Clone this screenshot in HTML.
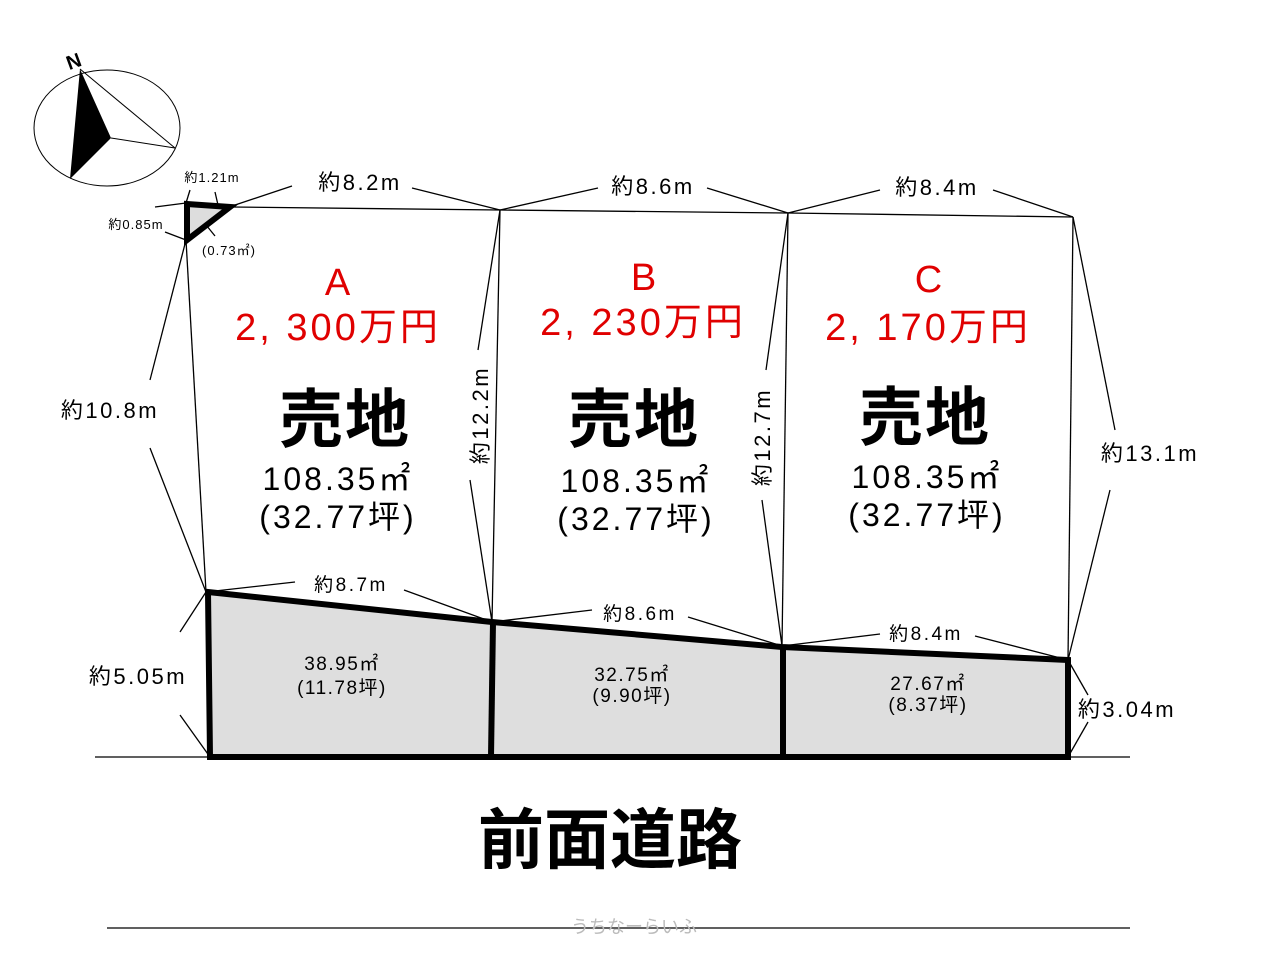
<!DOCTYPE html>
<html><head><meta charset="utf-8"><style>
html,body{margin:0;padding:0;background:#fff;}
svg{display:block;}
text{font-family:"Liberation Sans","Noto Sans CJK JP",sans-serif;}
</style></head><body>
<svg width="1269" height="960" viewBox="0 0 1269 960" xmlns="http://www.w3.org/2000/svg">
<ellipse cx="107" cy="128" rx="73" ry="58" fill="none" stroke="#000" stroke-width="1"/>
<polygon points="80,69 111,138 70,179" fill="#000"/>
<line x1="80" y1="69" x2="175" y2="148" stroke="#000" stroke-width="1"/>
<line x1="111" y1="138" x2="175" y2="148" stroke="#000" stroke-width="1"/>
<text x="66" y="68" font-size="20" font-weight="bold" transform="rotate(-20 74 60)">N</text>

<g stroke="#000" stroke-width="1.3" fill="none">
<polyline points="232,207 500,210 788,213 1073,217"/>
<line x1="186" y1="240" x2="206" y2="592"/>
<line x1="500" y1="210" x2="492" y2="622"/>
<line x1="788" y1="213" x2="782" y2="646"/>
<line x1="1073" y1="217" x2="1068" y2="660"/>
<line x1="95" y1="757" x2="1130" y2="757"/>
<line x1="107" y1="928" x2="1130" y2="928"/>
<line x1="232" y1="206" x2="292" y2="186"/><line x1="412" y1="188" x2="500" y2="210"/>
<line x1="500" y1="210" x2="598" y2="188"/><line x1="707" y1="188" x2="788" y2="213"/>
<line x1="788" y1="213" x2="880" y2="190"/><line x1="993" y1="190" x2="1073" y2="217"/>
<line x1="186" y1="240" x2="150" y2="380"/><line x1="150" y1="448" x2="206" y2="592"/>
<line x1="500" y1="210" x2="478" y2="350"/><line x1="470" y1="480" x2="492" y2="622"/>
<line x1="788" y1="213" x2="766" y2="370"/><line x1="762" y1="500" x2="782" y2="646"/>
<line x1="1073" y1="217" x2="1115" y2="430"/><line x1="1110" y1="490" x2="1068" y2="660"/>
<line x1="206" y1="592" x2="295" y2="582"/><line x1="404" y1="590" x2="492" y2="622"/>
<line x1="492" y1="622" x2="592" y2="610"/><line x1="688" y1="617" x2="782" y2="646"/>
<line x1="782" y1="646" x2="880" y2="634"/><line x1="975" y1="636" x2="1068" y2="660"/>
<line x1="206" y1="592" x2="180" y2="632"/><line x1="180" y1="715" x2="210" y2="757"/>
<line x1="1068" y1="660" x2="1088" y2="695"/><line x1="1088" y1="722" x2="1068" y2="757"/>
<line x1="155" y1="207" x2="186" y2="203"/><line x1="186" y1="203" x2="190" y2="190"/>
<line x1="215" y1="192" x2="218" y2="205"/><line x1="165" y1="232" x2="186" y2="240"/>
<line x1="198" y1="215" x2="215" y2="236"/>
</g>

<polygon points="187,204 230,207 187,240" fill="#ddd" stroke="#000" stroke-width="6" stroke-linejoin="miter"/>

<polygon points="208,592 492,622 782,647 1068,660 1068,757 210,757" fill="#dedede" stroke="#000" stroke-width="6"/>
<line x1="493" y1="622" x2="491" y2="757" stroke="#000" stroke-width="6"/>
<line x1="783" y1="647" x2="783" y2="757" stroke="#000" stroke-width="6"/>

<g font-size="22" text-anchor="middle" letter-spacing="2.5">
<text x="360" y="190">約8.2m</text>
<text x="653" y="194">約8.6m</text>
<text x="937" y="195">約8.4m</text>
<text x="110" y="418">約10.8m</text>
<text x="1150" y="461">約13.1m</text>
<text x="138" y="684">約5.05m</text>
<text x="1127" y="717">約3.04m</text>
<text x="351" y="591" font-size="19">約8.7m</text>
<text x="640" y="620" font-size="19">約8.6m</text>
<text x="926" y="640" font-size="19">約8.4m</text>
<text x="481" y="415" transform="rotate(-90 481 415)" dy="7">約12.2m</text>
<text x="763" y="437" transform="rotate(-90 763 437)" dy="7">約12.7m</text>
</g>
<g font-size="13" text-anchor="middle" letter-spacing="1">
<text x="212" y="182">約1.21m</text>
<text x="136" y="229">約0.85m</text>
<text x="229" y="255">(0.73㎡)</text>
</g>

<g text-anchor="middle" fill="#e00000" font-size="38" letter-spacing="3">
<text x="339" y="295">A</text><text x="338" y="340">2, 300万円</text>
<text x="645" y="290">B</text><text x="643" y="335">2, 230万円</text>
<text x="930" y="292">C</text><text x="928" y="340">2, 170万円</text>
</g>
<g text-anchor="middle" font-size="64" font-weight="bold" letter-spacing="2">
<text x="345" y="442">売地</text>
<text x="634" y="442">売地</text>
<text x="925" y="440">売地</text>
</g>
<g text-anchor="middle" font-size="32" letter-spacing="3">
<text x="338" y="490">108.35㎡</text><text x="338" y="528">(32.77坪)</text>
<text x="636" y="492">108.35㎡</text><text x="636" y="530">(32.77坪)</text>
<text x="927" y="488">108.35㎡</text><text x="927" y="526">(32.77坪)</text>
</g>
<g text-anchor="middle" font-size="19" letter-spacing="1.5">
<text x="342" y="670">38.95㎡</text><text x="342" y="694">(11.78坪)</text>
<text x="632" y="681">32.75㎡</text><text x="632" y="702">(9.90坪)</text>
<text x="928" y="690">27.67㎡</text><text x="928" y="711">(8.37坪)</text>
</g>
<text x="610" y="863" text-anchor="middle" font-size="66" font-weight="bold">前面道路</text>
<text x="634" y="933" text-anchor="middle" font-size="18" fill="#bbb">うちなーらいふ</text>
</svg>
</body></html>
